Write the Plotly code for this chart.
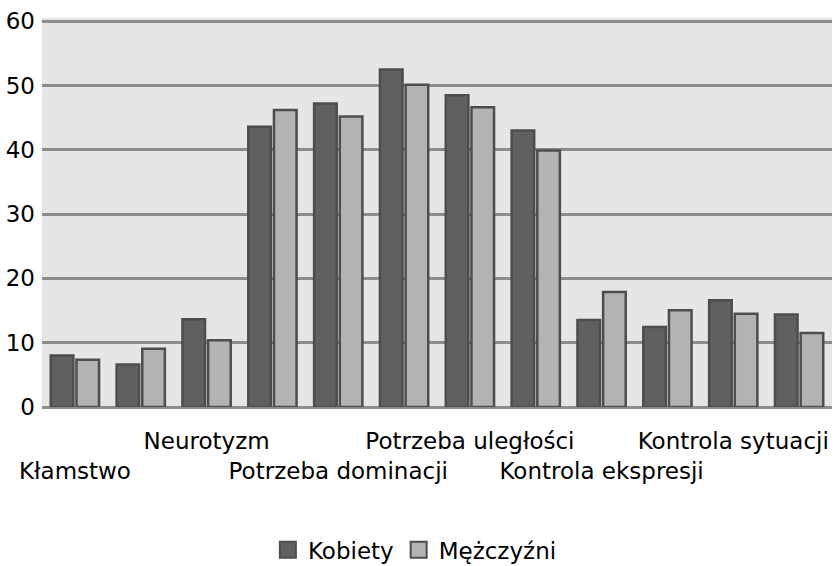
import plotly.graph_objects as go

positions = list(range(12))
tick_positions = [0, 2, 4, 6, 8, 10]
tick_labels = ["<br>Kłamstwo", "Neurotyzm", "<br>Potrzeba dominacji",
               "Potrzeba uległości", "<br>Kontrola ekspresji", "Kontrola sytuacji"]
kobiety = [8.0, 6.6, 13.65, 43.6, 47.2, 52.5, 48.5, 43.0, 13.55, 12.45, 16.6, 14.4]
mezczyzni = [7.35, 9.05, 10.4, 46.2, 45.2, 50.1, 46.6, 39.9, 17.9, 15.05, 14.5, 11.5]
y_ticks = [0, 10, 20, 30, 40, 50, 60]

FONT = "DejaVu Sans, sans-serif"
C_K = "#606060"
C_M = "#b3b3b3"
EDGE = "#4d4d4d"
GRID = "#8c8c8c"

fig = go.Figure()
fig.add_trace(go.Bar(x=positions, y=kobiety, name="Kobiety", showlegend=False,
                     marker=dict(color=C_K, line=dict(color=EDGE, width=2.5))))
fig.add_trace(go.Bar(x=positions, y=mezczyzni, name="Mężczyźni", showlegend=False,
                     marker=dict(color=C_M, line=dict(color=EDGE, width=2.5))))
# legend entries with larger square swatches
for nm, col in [("Kobiety", C_K), ("Mężczyźni", C_M)]:
    fig.add_trace(go.Scatter(x=[None], y=[None], mode="markers", name=nm,
                             marker=dict(symbol="square", size=16, color=col,
                                         line=dict(color=EDGE, width=2))))

fig.update_layout(
    width=835, height=566,
    margin=dict(l=42, r=3, t=18, b=159, autoexpand=False),
    paper_bgcolor="white", plot_bgcolor="#e6e6e6",
    barmode="group", bargap=0.22, bargroupgap=0.12,
    font=dict(family=FONT, size=23, color="black"),
    showlegend=True,
    legend=dict(orientation="h", x=0.472, xanchor="center", y=-0.367, yanchor="middle",
                font=dict(size=23), itemwidth=30, tracegroupgap=0),
)
fig.update_xaxes(range=[-0.5, 11.5], tickvals=tick_positions, ticktext=tick_labels,
                 showgrid=False, zeroline=False, showline=False, ticks="", tickangle=0,
                 automargin=False, ticklabelstandoff=18)
fig.update_yaxes(range=[0, 60.5], tickvals=y_ticks, showgrid=True, gridcolor=GRID,
                 gridwidth=2.5, zeroline=True, zerolinecolor=GRID, zerolinewidth=2.5,
                 showline=False, ticks="", automargin=False, ticklabelstandoff=6)

fig.write_html("out.html", config={"displayModeBar": False},
               post_script="document.body.style.margin='0';document.body.style.overflow='hidden';")
